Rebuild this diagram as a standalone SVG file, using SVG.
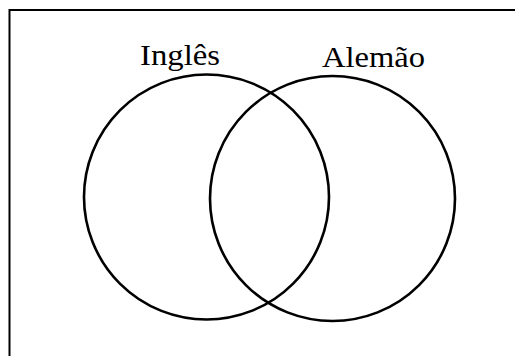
<svg xmlns="http://www.w3.org/2000/svg" width="515" height="356" viewBox="0 0 515 356">
<style>
.c{fill:none;stroke:#000;stroke-width:2.6}
.t{font-family:"Liberation Serif","Times New Roman",serif;font-size:30px;fill:#000}
</style>
<rect width="515" height="356" fill="#fff"/>
<path d="M9.5 356V10H515" fill="none" stroke="#000" stroke-width="2"/>
<g id="ingles">
<circle class="c" cx="206.5" cy="197" r="122.5"/>
<text class="t" x="140" y="65" textLength="80" lengthAdjust="spacingAndGlyphs">Inglês</text>
</g>
<g id="alemao">
<circle class="c" cx="332.5" cy="198.5" r="122.5"/>
<text class="t" x="322" y="66.5" textLength="103" lengthAdjust="spacingAndGlyphs">Alemão</text>
</g>
<g id="connectors"/>
</svg>
